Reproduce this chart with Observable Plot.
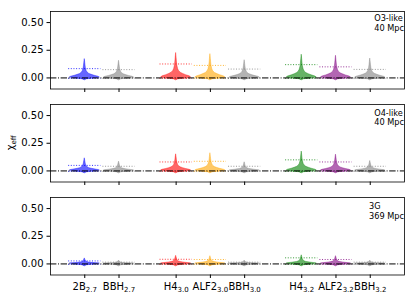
<!DOCTYPE html>
<html><head><meta charset="utf-8">
<script src="https://cdn.jsdelivr.net/npm/d3@7"></script>
<script src="https://cdn.jsdelivr.net/npm/@observablehq/plot@0.6"></script>
<style>
body{margin:0;background:#fff;}
#chart{position:relative;width:415px;height:299px;font-family:"DejaVu Sans";overflow:hidden;}
#chart svg{position:absolute;left:0;background:transparent;max-width:none;}
</style></head><body><div id="chart"></div>
<script>
// ---- data ----
const categories = ["2B_2.7","BBH_2.7","H4_3.0","ALF2_3.0","BBH_3.0","H4_3.2","ALF2_3.2","BBH_3.2"];
const positions  = [0, 1, 2.667, 3.667, 4.667, 6.333, 7.333, 8.333];
const colors     = ["blue","gray","red","orange","gray","green","purple","gray"];
const panelNames = ["O3-like\n40 Mpc", "O4-like\n40 Mpc", "3G\n369 Mpc"];
// violin maximum (top of spike) per panel
const maxO3   = [0.17, 0.155, 0.225, 0.215, 0.16, 0.21, 0.20, 0.175];
const maxO4   = [0.114, 0.084, 0.15, 0.16, 0.078, 0.175, 0.147, 0.09];
const max3G   = [0.05, 0.03, 0.073, 0.07, 0.03, 0.078, 0.07, 0.03];
// upper dotted quantile line per panel
const upperO3 = [0.084, 0.075, 0.126, 0.113, 0.08, 0.12, 0.10, 0.077];
const upperO4 = [0.05, 0.042, 0.081, 0.087, 0.042, 0.10, 0.081, 0.042];
const upper3G = [0.027, 0.016, 0.042, 0.04, 0.016, 0.055, 0.04, 0.016];
// lower dotted quantile line (same for all)
const lowerLine = -0.004;
// shared violin outline
const widestY  = 0.003;
const tailY    = [-0.02, -0.012, -0.005];
const tailW    = [0.03, 0.15, 0.6];
const profileT = [0, 0.05, 0.1, 0.15, 0.2, 0.27, 0.35, 0.5, 0.65, 0.8, 1];
const profileW = [1, 0.9, 0.65, 0.46, 0.3, 0.19, 0.13, 0.075, 0.05, 0.03, 0];
const yTicks = [0, 0.25, 0.5];

// ---- drawing ----
const HW = 0.44, LW = 0.47;
const chart = document.getElementById("chart");

function violinRows(maxArr) {
  const rows = [];
  maxArr.forEach((mx, i) => {
    tailY.forEach((y, j) => rows.push({i, y, w: tailW[j]}));
    profileT.forEach((t, j) => rows.push({i, y: widestY + t * (mx - widestY), w: profileW[j]}));
  });
  return rows;
}

const ctx = document.createElement("canvas").getContext("2d");
ctx.font = "8.2px 'DejaVu Sans'";

const panels = [
  {maxArr: maxO3, upArr: upperO3, top: 0.7, mb: 12.5, labels: false, dy: 2.8},
  {maxArr: maxO4, upArr: upperO4, top: 94,  mb: 12.5, labels: false, dy: 4.3},
  {maxArr: max3G, upArr: upper3G, top: 186.7, mb: 24.8, labels: true, dy: 5}
];

panels.forEach((p, k) => {
  const rows = violinRows(p.maxArr);
  const upRows = p.upArr.map((y, i) => ({i, y}));
  const loRows = positions.map((_, i) => ({i, y: lowerLine}));
  const name = panelNames[k];
  const blockW = Math.max(...name.split("\n").map(s => ctx.measureText(s).width));
  const height = 10 + 77.5 + p.mb;
  const svg = Plot.plot({
    width: 415, height,
    marginLeft: 50, marginRight: 11, marginTop: 10, marginBottom: p.mb,
    style: {fontFamily: "DejaVu Sans", fontSize: "10px", background: "transparent", color: "black", overflow: "visible"},
    x: {domain: [-1, 9.333], axis: null},
    y: {domain: [-0.1, 0.6], axis: null},
    color: {type: "identity"},
    marks: [
      Plot.areaX(rows, {
        y: "y",
        x1: d => positions[d.i] - HW * d.w,
        x2: d => positions[d.i] + HW * d.w,
        z: "i",
        fill: d => colors[d.i], fillOpacity: 0.6,
        stroke: d => colors[d.i], strokeOpacity: 0.55, strokeWidth: 0.7,
        curve: "linear"
      }),
      Plot.ruleY(upRows, {y: "y", x1: d => positions[d.i] - LW, x2: d => positions[d.i] + LW,
        stroke: d => colors[d.i], strokeOpacity: 0.8, strokeWidth: 1, strokeDasharray: "1,1.65"}),
      Plot.ruleY(loRows, {y: "y", x1: d => positions[d.i] - LW, x2: d => positions[d.i] + LW,
        stroke: d => colors[d.i], strokeOpacity: 0.8, strokeWidth: 1, strokeDasharray: "1,1.65"}),
      Plot.ruleY([0], {stroke: "black", strokeWidth: 1, strokeDasharray: "6.4,1.6,1,1.6"}),
      Plot.text([name], {frameAnchor: "top-right", textAnchor: "start", lineAnchor: "top",
        dx: -blockW - 0.5, dy: p.dy, fontSize: 8.2, lineHeight: 1.18, fill: "black", fontFamily: "DejaVu Sans"}),
      Plot.frame({stroke: "black", strokeWidth: 0.8}),
      Plot.axisY(yTicks, {tickFormat: d3.format(".2f"), tickSize: 3.5, tickPadding: 3.5, label: null, stroke: "black", fill: "black"}),
      Plot.axisX(positions, {
        tickFormat: d => p.labels ? categories[positions.indexOf(d)] : "",
        tickSize: 3.5, tickPadding: 4, label: null, stroke: "black", fill: "black"
      })
    ]
  });
  svg.style.top = p.top + "px";
  chart.appendChild(svg);

  if (p.labels) {
    d3.select(svg).selectAll('g[aria-label="x-axis tick label"] text').each(function() {
      const t = this.textContent;
      const [base, sub] = t.split("_");
      const sel = d3.select(this);
      sel.text(base);
      sel.append("tspan").attr("font-size", 7).attr("dy", 2.5).text(sub);
    });
  }
  if (k === 1) {
    const lab = d3.select(svg).append("text")
      .attr("transform", "translate(13.5," + (142.9 - p.top) + ") rotate(-90)")
      .attr("text-anchor", "middle")
      .attr("font-family", "DejaVu Sans")
      .attr("font-size", 10)
      .attr("fill", "black");
    lab.append("tspan").text("χ");
    lab.append("tspan").attr("font-size", 7).attr("dy", 2.5).text("eff");
  }
});
</script></body></html>
